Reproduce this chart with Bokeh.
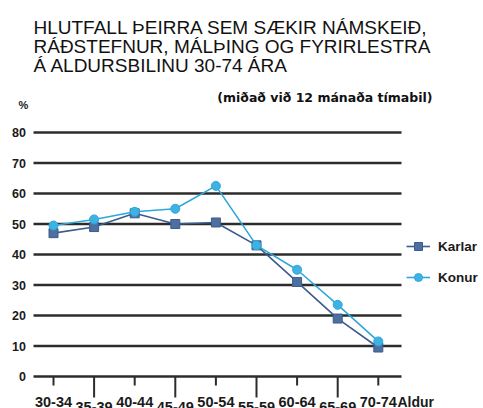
from bokeh.plotting import figure
from bokeh.models import Legend, LegendItem, ColumnDataSource, Range1d
from bokeh.core.properties import value
from bokeh.embed import file_html
from bokeh.resources import INLINE

# ---- data ----
categories = ["30-34", "35-39", "40-44", "45-49", "50-54", "55-59", "60-64", "65-69", "70-74"]
karlar = [47, 49, 53.5, 50, 50.5, 43, 31, 19, 9.5]
konur = [49.5, 51.5, 54, 55, 62.5, 43, 35, 23.5, 11.5]
y_ticks = [0, 10, 20, 30, 40, 50, 60, 70, 80]
title_lines = ["HLUTFALL ÞEIRRA SEM SÆKIR NÁMSKEIÐ,",
               "RÁÐSTEFNUR, MÁLÞING OG FYRIRLESTRA",
               "Á ALDURSBILINU 30-74 ÁRA"]
subtitle = "(miðað við 12 mánaða tímabil)"
unit_label = "%"
axis_name = "Aldur"
series_names = ["Karlar", "Konur"]

# ---- styles / layout ----
K_LINE = "#3b5c8c"
K_FILL = "#4d70a0"
W_LINE = "#2ea7db"
W_FILL = "#3eb2e2"
GRID = "#2c2c2c"
TXT = "#1a1a1a"
SANS = "Liberation Sans, Arial, sans-serif"
WIDE = "DejaVu Sans, sans-serif"

W, H = 483, 408
PX = 3.05          # pixels per percent unit
Y0 = 376           # pixel y of value 0
XPX = 40.6         # pixels per category
X0 = 53            # pixel x of first category

def yd(py):
    return (Y0 - py) / PX

def xd(px):
    return (px - X0) / XPX

x = list(range(len(categories)))

p = figure(width=W, height=H, output_backend="svg", toolbar_location=None,
           x_axis_location=None, y_axis_location=None, tools="",
           x_range=Range1d(xd(0), xd(W)), y_range=Range1d(yd(H), yd(0)),
           min_border=0)
p.title.visible = False
p.outline_line_color = None
p.grid.visible = False
p.background_fill_color = "white"
p.border_fill_color = "white"

# horizontal gridlines / axis line
p.segment(x0=[xd(33)] * len(y_ticks), y0=y_ticks, x1=[xd(401)] * len(y_ticks), y1=y_ticks,
          line_color=GRID, line_width=2.4)
# y tick labels
p.text(x=[xd(25.5)] * len(y_ticks), y=y_ticks, text=[str(t) for t in y_ticks],
       text_align="right", text_baseline="middle", text_font=value(SANS),
       text_font_style="bold", text_font_size="12.5px", text_color=TXT)

# x ticks (short at even, long at odd positions)
tick_end = [yd(385) if i % 2 == 0 else yd(397) for i in x]
p.segment(x0=x, y0=[0] * len(x), x1=x, y1=tick_end, line_color=GRID, line_width=2)

# x tick labels
even = [i for i in x if i % 2 == 0]
odd = [i for i in x if i % 2 == 1]
p.text(x=even, y=[yd(401)] * len(even), text=[categories[i] for i in even],
       text_align="center", text_baseline="alphabetic",
       text_font=value(SANS), text_font_style="bold", text_font_size="14.5px", text_color=TXT)
p.text(x=odd, y=[yd(401)] * len(odd), text=[categories[i] for i in odd],
       text_align="center", text_baseline="top",
       text_font=value(SANS), text_font_style="bold", text_font_size="14.5px", text_color=TXT)
p.text(x=[xd(397)], y=[yd(401)], text=[axis_name], text_align="left",
       text_baseline="alphabetic", text_font=value(SANS), text_font_style="bold",
       text_font_size="14px", text_color=TXT)

# title, subtitle, unit
p.text(x=[xd(33)] * 3, y=[yd(27), yd(46), yd(65)], text=title_lines,
       text_align="left", text_baseline="alphabetic", text_font=value(SANS),
       text_font_size="19px", text_color="#111")
p.text(x=[xd(432)], y=[yd(97)], text=[subtitle], text_align="right",
       text_baseline="alphabetic", text_font=value(WIDE), text_font_style="bold",
       text_font_size="12.5px", text_color="#111")
p.text(x=[xd(23)], y=[yd(104)], text=[unit_label], text_align="center",
       text_baseline="alphabetic", text_font=value(SANS), text_font_style="bold",
       text_font_size="11px", text_color=TXT)

# series
src = ColumnDataSource(dict(x=x, karlar=karlar, konur=konur))
kl = p.line("x", "karlar", source=src, line_color=K_LINE, line_width=1.6)
ks = p.scatter("x", "karlar", source=src, marker="square", size=9,
               fill_color=K_FILL, line_color=K_LINE)
wl = p.line("x", "konur", source=src, line_color=W_LINE, line_width=1.6)
ws = p.scatter("x", "konur", source=src, marker="circle", size=9,
               fill_color=W_FILL, line_color=W_LINE)

legend = Legend(items=[LegendItem(label=series_names[0], renderers=[kl, ks]),
                       LegendItem(label=series_names[1], renderers=[wl, ws])],
                location=(406, 121), orientation="vertical",
                glyph_width=24, glyph_height=20, spacing=11, padding=4, margin=0,
                label_standoff=8, border_line_color=None, background_fill_alpha=0,
                label_text_font=SANS, label_text_font_style="bold",
                label_text_font_size="13.5px", label_text_color=TXT)
p.add_layout(legend, "center")

open("out.html", "w").write(file_html(p, INLINE))
